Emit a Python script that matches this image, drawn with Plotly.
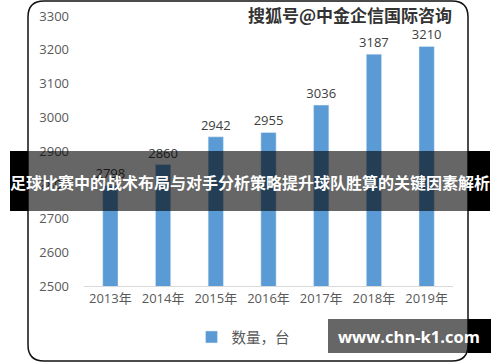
import plotly.graph_objects as go

years = ["2013年", "2014年", "2015年", "2016年", "2017年", "2018年", "2019年"]
values = [2798, 2860, 2942, 2955, 3036, 3187, 3210]
series_name = "数量，台"
y_ticks = [2500, 2600, 2700, 2800, 2900, 3000, 3100, 3200, 3300]
banner_text = "足球比赛中的战术布局与对手分析策略提升球队胜算的关键因素解析"
watermark = "搜狐号@中金企信国际咨询"
site_text = "www.chn-k1.com"

W, H = 500, 362
L, R, T, B = 84, 453, 16, 286


def px(x):
    return (x - L) / (R - L)


def py(y):
    return (B - y) / (B - T)


FONT = "Open Sans, Noto Sans CJK SC, sans-serif"

fig = go.Figure()
fig.add_trace(go.Bar(
    x=years, y=values, name=series_name,
    marker=dict(color="#5b9bd5"),
    text=[str(v) for v in values], textposition="outside",
    textfont=dict(size=13, color="#404040", family=FONT),
    constraintext="none",
    cliponaxis=False,
))

shapes = []
# rounded border
x0, x1, y0, y1, r = 28, 468, 1, 361, 16
path = (f"M {px(x0+r)},{py(y0)} L {px(x1-r)},{py(y0)} Q {px(x1)},{py(y0)} {px(x1)},{py(y0+r)} "
        f"L {px(x1)},{py(y1-r)} Q {px(x1)},{py(y1)} {px(x1-r)},{py(y1)} "
        f"L {px(x0+r)},{py(y1)} Q {px(x0)},{py(y1)} {px(x0)},{py(y1-r)} "
        f"L {px(x0)},{py(y0+r)} Q {px(x0)},{py(y0)} {px(x0+r)},{py(y0)} Z")
shapes.append(dict(type="path", xref="paper", yref="paper", path=path,
                   line=dict(color="#111111", width=1.5), layer="below"))


def rect(a, b, c, d, color):
    return dict(type="rect", xref="paper", yref="paper", x0=px(a), x1=px(b),
                y0=py(d), y1=py(c), fillcolor=color, line=dict(width=0), layer="above")


# banner
shapes.append(rect(10, 28, 151, 211, "#000000"))
shapes.append(rect(28, 468, 151, 211, "rgba(0,0,0,0.6)"))
shapes.append(rect(468, 490, 151, 211, "#000000"))
# site box
shapes.append(rect(328, 468, 319, 353, "rgba(0,0,0,0.6)"))
shapes.append(rect(468, 491, 319, 353, "#000000"))

annotations = [
    dict(text=f"<b>{banner_text}</b>", xref="paper", yref="paper", x=px(250), y=py(182),
         showarrow=False, font=dict(size=16, color="white", family="Noto Sans CJK SC"),
         xanchor="center", yanchor="middle"),
    dict(text=f"<b>{watermark}</b>", xref="paper", yref="paper", x=px(350), y=py(15),
         showarrow=False, font=dict(size=17, color="#333333", family="Noto Sans CJK SC"),
         xanchor="center", yanchor="middle"),
    dict(text=f"<b>{site_text}</b>", xref="paper", yref="paper", x=px(409), y=py(336),
         showarrow=False, font=dict(size=16.5, color="white", family="Open Sans, sans-serif"),
         xanchor="center", yanchor="middle"),
]

fig.update_layout(
    width=W, height=H,
    margin=dict(l=L, r=W - R, t=T, b=H - B),
    paper_bgcolor="white", plot_bgcolor="white",
    bargap=0.71,
    font=dict(family=FONT, size=13, color="#595959"),
    xaxis=dict(showline=True, linecolor="#d9d9d9", linewidth=1, ticks="",
               tickfont=dict(size=13, color="#595959"), fixedrange=True, automargin=False),
    yaxis=dict(range=[2500, 3300], tickvals=y_ticks, showgrid=False, zeroline=False,
               showline=False, tickfont=dict(size=13, color="#595959"), ticklabelstandoff=14,
               automargin=False),
    showlegend=True,
    legend=dict(orientation="h", xref="container", yref="container",
                x=243 / W, xanchor="center", y=(H - 337) / H, yanchor="middle",
                itemwidth=30, font=dict(size=14.5, color="#595959")),
    shapes=shapes, annotations=annotations,
)

fig.write_html("out.html", config={"displayModeBar": False},
               post_script="document.body.style.margin='0';document.body.style.overflow='hidden';")
